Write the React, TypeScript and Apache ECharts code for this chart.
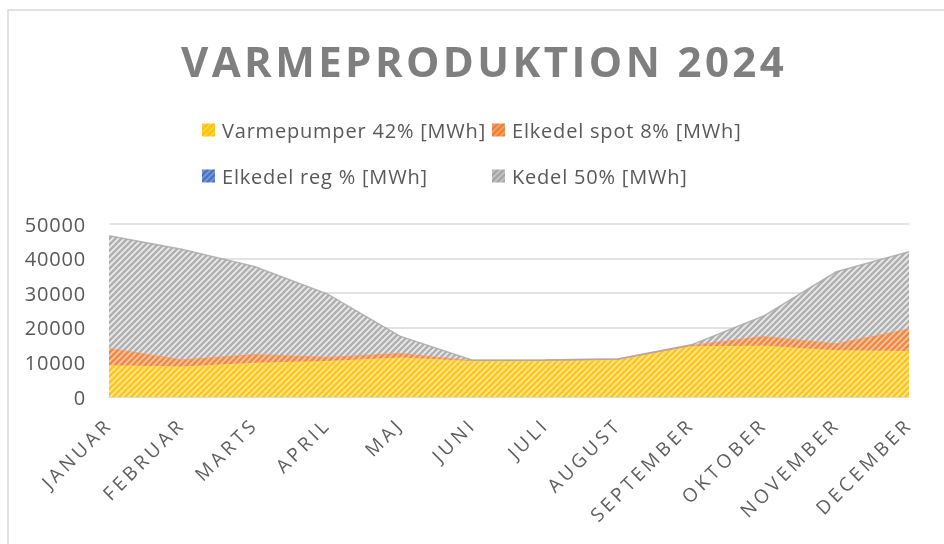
import React, { useEffect, useRef } from "react";
import * as echarts from "echarts";

const months = ["JANUAR","FEBRUAR","MARTS","APRIL","MAJ","JUNI","JULI","AUGUST","SEPTEMBER","OKTOBER","NOVEMBER","DECEMBER"];
const varmepumper = [9200, 8800, 9900, 10400, 11400, 10400, 10500, 10800, 14700, 14800, 13500, 13300];
const elkedelSpot = [5000, 2100, 2500, 1200, 1300, 200, 200, 200, 300, 2800, 2000, 6500];
const elkedelReg = [0, 0, 0, 0, 0, 0, 0, 0, 0, 0, 0, 0];
const kedel = [32400, 31800, 25300, 18200, 4900, 0, 0, 0, 0, 5800, 20700, 22200];
const seriesNames = ["Varmepumper 42% [MWh]", "Elkedel spot 8% [MWh]", "Elkedel reg % [MWh]", "Kedel 50% [MWh]"];
const yTicks = { min: 0, max: 50000, interval: 10000 };

function makePattern(bg: string, fg: string) {
  const s = 6;
  const c = document.createElement("canvas");
  c.width = s; c.height = s;
  const ctx = c.getContext("2d")!;
  ctx.fillStyle = bg;
  ctx.fillRect(0, 0, s, s);
  ctx.strokeStyle = fg;
  ctx.lineWidth = 2.6;
  for (const o of [-s, 0, s]) {
    ctx.beginPath();
    ctx.moveTo(o - 1, s + 1);
    ctx.lineTo(o + s + 1, -1);
    ctx.stroke();
  }
  return { image: c.toDataURL(), repeat: "repeat", imageWidth: s, imageHeight: s } as any;
}

const css = `
.vp-chart text[style*="42px"] { letter-spacing: 3.4px; }
.vp-chart text[style*="19px"] { letter-spacing: 3.6px; }
.vp-chart text[style*="20px"] { letter-spacing: 0.8px; }
`;

export default function App() {
  const ref = useRef<HTMLDivElement>(null);
  useEffect(() => {
    const chart = echarts.init(ref.current!, null, { renderer: "svg" });
    const pats = [
      makePattern("#ffe799", "#ffc61a"),
      makePattern("#f8c6a2", "#ef8a45"),
      makePattern("#b8cbeb", "#4f7bc8"),
      makePattern("#ececec", "#b0b0b0"),
    ];
    const lineCols = ["#ffd34d", "#f0a070", "#4472c4", "#a8a8a8"];
    const legendCols = [
      makePattern("#ffd84d", "#ffc000"),
      makePattern("#f4a774", "#ed7d31"),
      makePattern("#7f9fd8", "#4472c4"),
      makePattern("#c8c8c8", "#a5a5a5"),
    ];
    const dataArr = [varmepumper, elkedelSpot, elkedelReg, kedel];
    const legendPos = [
      { left: 202, top: 120 },
      { left: 492, top: 120 },
      { left: 202, top: 166 },
      { left: 492, top: 166 },
    ];
    const font = "'Open Sans', sans-serif";
    chart.setOption({
      animation: false,
      title: {
        text: "VARMEPRODUKTION 2024",
        left: 181,
        top: 39,
        padding: 0,
        textStyle: { fontFamily: font, fontSize: 42, fontWeight: "bold", color: "#7f7f7f" },
      },
      legend: seriesNames.map((n, i) => ({
        data: [{ name: n, itemStyle: { color: legendCols[i] } }],
        left: legendPos[i].left,
        top: legendPos[i].top,
        padding: 0,
        icon: "rect",
        itemWidth: 13,
        itemHeight: 13,
        textStyle: { fontFamily: font, fontSize: 20, color: "#595959", padding: [0, 0, 0, 2] },
      })),
      grid: { left: 109, right: 35, top: 224, bottom: 147, containLabel: false },
      xAxis: {
        type: "category",
        data: months,
        boundaryGap: false,
        axisTick: { show: false },
        axisLine: { lineStyle: { color: "#d9d9d9", width: 1.5 } },
        axisLabel: { rotate: 45, margin: 24, fontFamily: font, fontSize: 19, color: "#5f5f5f", interval: 0 },
      },
      yAxis: {
        type: "value",
        min: yTicks.min,
        max: yTicks.max,
        interval: yTicks.interval,
        axisLine: { show: false },
        axisTick: { show: false },
        splitLine: { lineStyle: { color: "#d9d9d9", width: 1.5 } },
        axisLabel: { margin: 23, fontFamily: font, fontSize: 20, color: "#595959", formatter: (v: number) => String(v) },
      },
      series: seriesNames.map((n, i) => ({
        name: n,
        type: "line",
        stack: "total",
        data: dataArr[i],
        showSymbol: false,
        symbol: "none",
        itemStyle: { color: legendCols[i] },
        lineStyle: { color: lineCols[i], width: i === 2 ? 0 : 1.5, opacity: 0.8 },
        areaStyle: { color: pats[i], opacity: 1 },
        z: 2 + i,
      })),
      graphic: [
        {
          type: "rect",
          shape: { x: 8, y: 10, width: 960, height: 560 },
          style: { fill: "none", stroke: "#d9d9d9", lineWidth: 1.5 },
          silent: true,
        },
      ],
    });
    return () => chart.dispose();
  }, []);
  return (
    <>
      <style>{css}</style>
      <div className="vp-chart" ref={ref} style={{ position: "fixed", left: 0, top: 0, width: 944, height: 544 }} />
    </>
  );
}
